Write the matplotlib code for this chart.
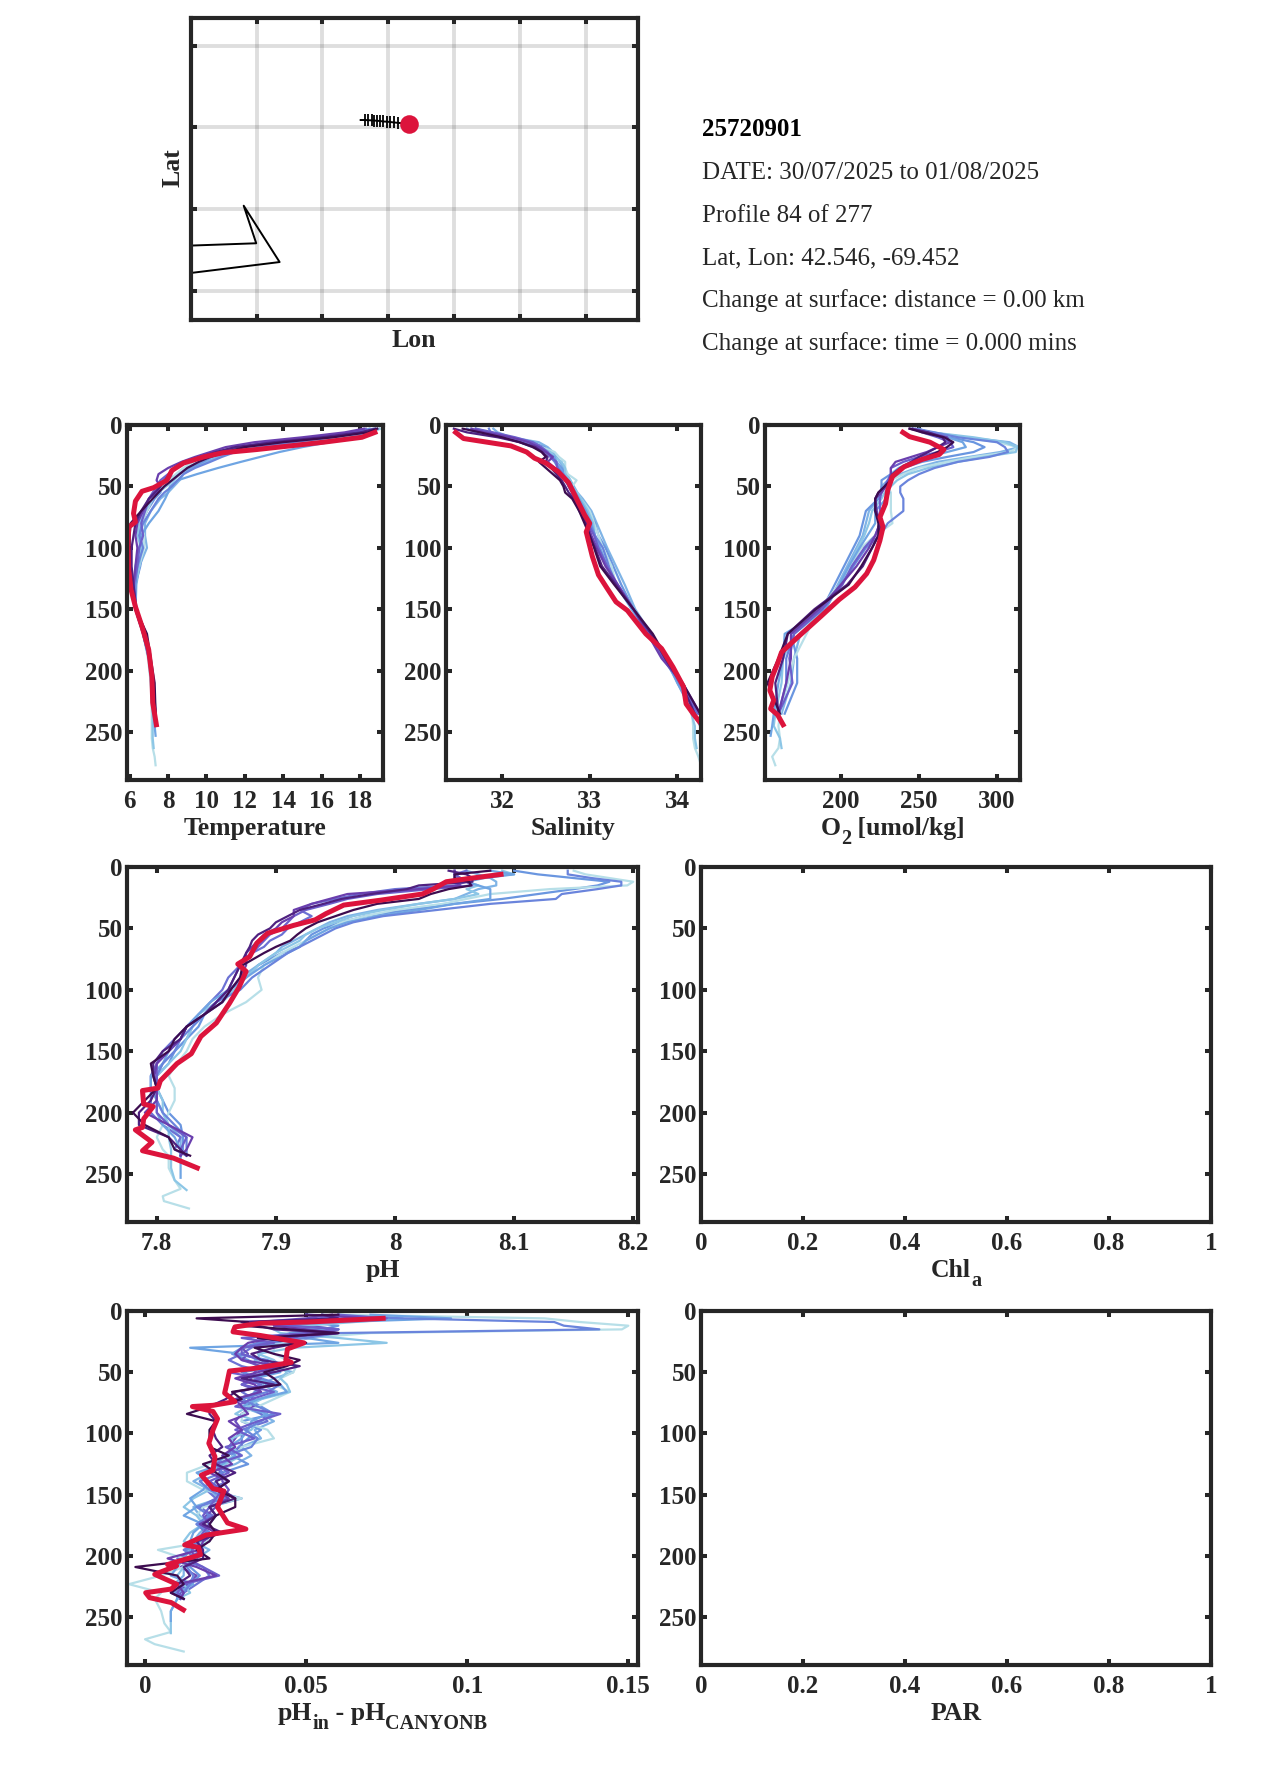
import matplotlib
matplotlib.use('Agg')
import matplotlib.pyplot as plt

plt.rcParams['font.family'] = ['Liberation Serif', 'DejaVu Serif']

W, H = 1275, 1771
DARK = '#262626'
RED = '#dc143c'
line_colors = ['#b7dfe8', '#8cc6e6', '#6fa5e3', '#6a84dc', '#6d5fcb', '#6a3fae', '#4f2180', '#3d0c4f']
extra_colors = ['#7fb4e6', '#6a96e0', '#6c72d4', '#6b50bd']

info_lines = ['DATE: 30/07/2025 to 01/08/2025', 'Profile 84 of 277', 'Lat, Lon: 42.546, -69.452',
              'Change at surface: distance = 0.00 km', 'Change at surface: time = 0.000 mins']

# map
lon_ticks = [-74.08, -72.08, -70.08, -68.08, -66.08, -64.08]
lat_ticks = [40.5, 41.5, 42.5, 43.5]
track_lon = [-70.92, -70.79, -70.69, -70.59, -70.51, -70.41, -70.33, -70.23, -70.13, -70.03, -69.90, -69.78, -69.452]
track_lat = [42.59, 42.59, 42.588, 42.586, 42.584, 42.58, 42.578, 42.572, 42.57, 42.566, 42.56, 42.555, 42.546]
coast_lon = [-76.2, -74.09, -74.47, -73.38, -76.2]
coast_lat = [41.05, 41.08, 41.54, 40.85, 40.71]

# depth grids
depth_a = [3, 6, 10, 14, 18, 22, 26, 30, 35, 40, 45, 50, 55, 60, 70, 80, 90, 100, 115, 130, 150, 170, 190, 210, 235]
tail_0 = [245, 255, 263, 270, 277]
tail_1 = [245, 255, 263]
tail_2 = [245, 253]

# temperature
t0 = [19.1, 18.5, 17, 14.5, 11.5, 10.4, 9.8, 9.3, 8.8, 8.4, 8.1, 7.7, 7.4, 7.2, 6.9, 6.6, 6.75, 6.75, 6.5, 6.25, 6.3, 6.7, 6.95, 7.1, 7.15, 7.15, 7.15, 7.2, 7.3, 7.35]
t1 = [19.0, 18.6, 17.0, 14.8, 12.0, 10.8, 10.2, 9.6, 9.0, 8.6, 8.3, 7.9, 7.5, 7.2, 6.8, 6.5, 6.4, 6.6, 6.5, 6.3, 6.3, 6.7, 7.0, 7.1, 7.2, 7.2, 7.2, 7.25]
t2 = [18.9, 18.4, 17.6, 16.4, 15, 13.8, 12.8, 11.8, 10.6, 9.5, 8.5, 8.1, 8.0, 7.85, 7.5, 7.0, 6.6, 6.5, 6.3, 6.25, 6.35, 6.75, 7.0, 7.15, 7.25, 7.3, 7.35]
t3 = [18.8, 18.0, 16.5, 14.5, 12.8, 11.5, 10.8, 10.2, 9.4, 8.8, 8.5, 8.2, 7.8, 7.5, 7.1, 6.7, 6.5, 6.7, 6.4, 6.3, 6.3, 6.7, 7.0, 7.15, 7.3]
t4 = [18.3, 17.6, 15.5, 13.2, 11.6, 10.5, 9.8, 9.0, 8.4, 8.0, 7.6, 7.4, 7.2, 7.0, 6.8, 6.6, 6.7, 6.5, 6.4, 6.2, 6.3, 6.7, 7.0, 7.2, 7.3]
t5 = [18.2, 17.2, 15.0, 12.5, 11, 10.2, 9.4, 8.7, 8.0, 7.5, 7.4, 7.6, 7.4, 7.0, 6.7, 6.4, 6.3, 6.4, 6.3, 6.2, 6.3, 6.75, 7.05, 7.2, 7.35]
t6 = [18.8, 18.0, 16.0, 13.5, 11.5, 10.5, 9.7, 9, 8.4, 8.1, 7.8, 7.6, 7.3, 7.0, 6.6, 6.3, 6.2, 6.1, 6.1, 6.2, 6.35, 6.85, 7.05, 7.25, 7.35]
t7 = [18.9, 18.4, 16.6, 14.0, 12.0, 11, 10.2, 9.6, 9.0, 8.6, 8.2, 7.8, 7.5, 7.2, 6.6, 6.05, 6.0, 6.0, 6.0, 6.1, 6.3, 6.9, 7.1, 7.3, 7.35]
te0 = [18.7, 18, 16.6, 14.6, 12.6, 11.3, 10.6, 10, 9.2, 8.8, 8.6, 8.3, 8.0, 7.6, 7.1, 6.8, 6.8, 6.9, 6.5, 6.35, 6.3, 6.7, 7, 7.15, 7.25]
te1 = [18.5, 17.8, 16, 14, 12.2, 11, 10.3, 9.8, 9.1, 8.5, 7.9, 7.7, 7.6, 7.3, 6.9, 6.6, 6.5, 6.7, 6.55, 6.3, 6.3, 6.7, 7, 7.2, 7.3]
red_t_d = [6, 10, 14, 17, 20, 22.5, 26, 31, 37, 45, 51, 54, 62, 72, 79, 83, 96, 118, 134, 148, 164, 183, 205, 226, 244]
red_t = [18.78, 18.1, 16.1, 14.36, 12.6, 10.9, 9.85, 8.8, 8.2, 7.94, 7.25, 6.64, 6.3, 6.2, 6.3, 5.95, 5.91, 5.95, 6.07, 6.3, 6.64, 6.99, 7.16, 7.2, 7.39]

# salinity
s0 = [31.7, 31.8, 32.1, 32.3, 32.45, 32.6, 32.65, 32.72, 32.72, 32.75, 32.85, 32.8, 32.85, 32.9, 33.0, 33.05, 33.1, 33.15, 33.25, 33.3, 33.5, 33.68, 33.88, 34.02, 34.17, 34.18, 34.18, 34.2, 34.24, 34.27]
s1 = [31.65, 31.75, 32.0, 32.25, 32.42, 32.55, 32.6, 32.68, 32.72, 32.72, 32.78, 32.8, 32.85, 32.9, 32.98, 33.04, 33.06, 33.1, 33.2, 33.3, 33.48, 33.66, 33.86, 34.02, 34.16, 34.2, 34.2, 34.22]
s2 = [31.7, 31.85, 32.05, 32.2, 32.35, 32.5, 32.6, 32.62, 32.66, 32.7, 32.76, 32.8, 32.84, 32.88, 32.96, 33.02, 33.06, 33.12, 33.2, 33.3, 33.48, 33.66, 33.86, 34.0, 34.18, 34.26, 34.26]
s3 = [31.85, 31.87, 32.0, 32.22, 32.4, 32.5, 32.55, 32.6, 32.64, 32.7, 32.74, 32.78, 32.82, 32.86, 32.94, 33.0, 33.06, 33.15, 33.22, 33.3, 33.5, 33.68, 33.86, 34.02, 34.22]
s4 = [31.7, 31.9, 32.15, 32.35, 32.45, 32.52, 32.56, 32.62, 32.63, 32.68, 32.74, 32.76, 32.8, 32.84, 32.92, 32.98, 33.05, 33.1, 33.2, 33.32, 33.5, 33.68, 33.84, 34.04, 34.24]
s5 = [31.65, 31.8, 32.1, 32.3, 32.42, 32.5, 32.58, 32.52, 32.6, 32.66, 32.72, 32.76, 32.8, 32.84, 32.9, 32.97, 33.02, 33.08, 33.18, 33.32, 33.5, 33.66, 33.82, 34.06, 34.26]
s6 = [31.45, 31.6, 31.95, 32.2, 32.38, 32.46, 32.52, 32.5, 32.56, 32.62, 32.68, 32.72, 32.76, 32.82, 32.88, 32.96, 33.0, 33.06, 33.14, 33.3, 33.5, 33.7, 33.86, 34.04, 34.2]
s7 = [31.55, 31.75, 32.0, 32.2, 32.35, 32.45, 32.5, 32.42, 32.5, 32.58, 32.66, 32.7, 32.72, 32.8, 32.88, 32.94, 33.0, 33.05, 33.12, 33.28, 33.5, 33.72, 33.88, 34.06, 34.26]
se0 = [31.9, 31.95, 32.1, 32.42, 32.52, 32.58, 32.62, 32.66, 32.7, 32.74, 32.78, 32.82, 32.86, 32.92, 33.02, 33.08, 33.14, 33.2, 33.3, 33.4, 33.52, 33.7, 33.88, 34.0, 34.2]
se1 = [31.6, 31.7, 32.05, 32.35, 32.48, 32.55, 32.58, 32.62, 32.68, 32.72, 32.76, 32.8, 32.84, 32.9, 32.98, 33.06, 33.1, 33.18, 33.27, 33.36, 33.5, 33.66, 33.84, 34.02, 34.24]
red_s_d = [6, 11, 14, 17, 22, 27, 31, 38, 47, 60, 73, 80, 87, 107, 122, 132, 144, 151, 170, 182, 197, 213, 227, 235, 244]
red_s = [31.47, 31.56, 31.83, 32.1, 32.28, 32.37, 32.5, 32.64, 32.76, 32.85, 32.94, 33.0, 32.96, 33.03, 33.1, 33.19, 33.3, 33.43, 33.64, 33.82, 33.95, 34.07, 34.1, 34.18, 34.28]

# oxygen
o0 = [245, 255, 278, 300, 314, 308, 285, 268, 250, 240, 232, 230, 232, 232, 232, 233, 222, 213, 206, 199, 186, 178, 170, 166, 161, 160, 161, 160, 156, 158]
o1 = [247, 258, 285, 305, 313, 312, 292, 275, 256, 243, 236, 232, 228, 226, 220, 218, 215, 211, 205, 199, 190, 170, 163, 162, 158, 157, 161, 162]
o2 = [250, 256, 268, 278, 280, 268, 256, 245, 237, 232, 232, 230, 231, 229, 222, 222, 217, 212, 205, 199, 190, 164, 163, 160, 157, 156, 155]
o3 = [248, 260, 275, 300, 305, 307, 295, 275, 260, 250, 243, 238, 238, 240, 240, 230, 225, 216, 208, 200, 188, 170, 165, 165, 160]
o4 = [246, 252, 262, 270, 272, 262, 250, 240, 232, 232, 230, 228, 226, 225, 225, 225, 222, 215, 207, 201, 188, 170, 167, 169, 160]
o5 = [246, 255, 268, 270, 262, 255, 245, 235, 232, 232, 231, 229, 226, 222, 223, 225, 222, 218, 210, 200, 186, 168, 168, 165, 160]
o6 = [244, 256, 265, 267, 262, 256, 250, 245, 238, 233, 232, 228, 224, 222, 222, 226, 224, 220, 214, 204, 183, 166, 163, 158, 160]
o7 = [244, 252, 266, 272, 268, 262, 255, 248, 240, 235, 232, 228, 224, 222, 222, 224, 224, 220, 213, 205, 184, 166, 160, 153, 161]
oe0 = [246, 258, 280, 308, 314, 302, 282, 262, 248, 238, 230, 226, 226, 224, 218, 216, 214, 210, 204, 198, 190, 174, 170, 168, 162]
oe1 = [245, 254, 270, 285, 292, 285, 268, 252, 240, 232, 226, 226, 226, 224, 216, 214, 212, 208, 202, 196, 188, 168, 172, 172, 164]
red_o_d = [6, 9.5, 14, 20, 24, 28, 34, 42, 53, 64, 75, 83, 94, 110, 121, 132, 142, 156, 172, 185, 194, 205, 216, 224, 231, 236, 244]
red_o = [239.7, 244, 257, 266, 263, 252, 240.5, 233, 230, 228.6, 225, 227, 225, 221, 216.5, 209, 199, 187, 173, 162, 159.5, 156, 154.5, 157, 155, 159.5, 163]

# pH
depth_ph = [3, 6, 9, 12, 15, 18, 22, 26, 30, 35, 40, 45, 50, 55, 60, 65, 70, 80, 90, 100, 110, 120, 130, 140, 150, 160, 170, 180, 190, 200, 210, 220, 230, 235]
tail_ph = [245, 255, 262, 268, 272, 278]
p0 = [8.15, 8.16, 8.18, 8.2, 8.195, 8.13, 8.08, 8.06, 8.04, 8.0, 7.975, 7.955, 7.945, 7.935, 7.925, 7.915, 7.905, 7.89, 7.885, 7.888, 7.875, 7.855, 7.84, 7.83, 7.825, 7.817, 7.81, 7.815, 7.815, 7.81, 7.805, 7.8, 7.805, 7.81, 7.81, 7.815, 7.82, 7.805, 7.806, 7.827]
p1 = [8.09, 8.1, 8.06, 8.06, 8.07, 8.06, 8.07, 8.05, 8.02, 7.99, 7.965, 7.95, 7.935, 7.925, 7.92, 7.91, 7.9, 7.885, 7.875, 7.865, 7.85, 7.835, 7.83, 7.825, 7.82, 7.81, 7.8, 7.8, 7.805, 7.805, 7.81, 7.81, 7.812, 7.812, 7.812, 7.815, 7.825]
p2 = [8.08, 8.10, 8.075, 8.06, 8.07, 8.08, 8.08, 8.08, 8.05, 8.02, 7.985, 7.96, 7.945, 7.935, 7.925, 7.92, 7.91, 7.89, 7.875, 7.86, 7.845, 7.835, 7.825, 7.82, 7.81, 7.805, 7.795, 7.795, 7.80, 7.80, 7.805, 7.815, 7.82, 7.82, 7.82, 7.82]
p3 = [8.145, 8.145, 8.165, 8.19, 8.19, 8.17, 8.14, 8.135, 8.08, 8.035, 7.99, 7.965, 7.95, 7.94, 7.93, 7.92, 7.91, 7.895, 7.88, 7.87, 7.85, 7.84, 7.83, 7.82, 7.815, 7.805, 7.80, 7.80, 7.80, 7.805, 7.815, 7.825, 7.825, 7.825]
p4 = [8.05, 8.05, 8.055, 8.06, 8.065, 8.03, 7.985, 7.96, 7.945, 7.925, 7.915, 7.91, 7.905, 7.895, 7.89, 7.885, 7.88, 7.87, 7.865, 7.86, 7.85, 7.84, 7.825, 7.82, 7.81, 7.80, 7.80, 7.80, 7.80, 7.80, 7.81, 7.825, 7.82, 7.82]
p5 = [8.05, 8.05, 8.05, 8.05, 8.055, 8.02, 7.96, 7.945, 7.93, 7.915, 7.915, 7.905, 7.90, 7.89, 7.885, 7.88, 7.875, 7.875, 7.87, 7.862, 7.855, 7.84, 7.825, 7.82, 7.81, 7.80, 7.798, 7.80, 7.80, 7.79, 7.81, 7.83, 7.825, 7.82]
p6 = [8.045, 8.06, 8.065, 8.065, 8.02, 8.01, 7.98, 7.955, 7.94, 7.92, 7.91, 7.90, 7.895, 7.885, 7.88, 7.878, 7.875, 7.87, 7.865, 7.86, 7.85, 7.84, 7.825, 7.82, 7.805, 7.797, 7.797, 7.80, 7.795, 7.785, 7.785, 7.81, 7.82, 7.825]
p7 = [8.08, 8.05, 8.05, 8.062, 8.064, 8.045, 8.03, 8.02, 7.985, 7.965, 7.95, 7.935, 7.925, 7.918, 7.912, 7.9, 7.89, 7.872, 7.87, 7.862, 7.855, 7.84, 7.825, 7.815, 7.81, 7.795, 7.797, 7.80, 7.79, 7.78, 7.79, 7.81, 7.815, 7.828]
pe0 = [8.06, 8.07, 8.08, 8.085, 8.085, 8.07, 8.06, 8.05, 8.02, 7.985, 7.96, 7.945, 7.935, 7.925, 7.915, 7.905, 7.9, 7.885, 7.87, 7.865, 7.855, 7.84, 7.83, 7.825, 7.815, 7.805, 7.80, 7.80, 7.80, 7.805, 7.81, 7.82, 7.82, 7.82]
pe1 = [8.1, 8.12, 8.15, 8.18, 8.17, 8.15, 8.12, 8.09, 8.05, 8.01, 7.975, 7.955, 7.94, 7.93, 7.925, 7.92, 7.905, 7.885, 7.875, 7.86, 7.85, 7.84, 7.835, 7.825, 7.815, 7.81, 7.80, 7.80, 7.805, 7.81, 7.82, 7.822, 7.822, 7.82]
pe2 = [8.06, 8.05, 8.055, 8.06, 8.05, 8.0, 7.97, 7.95, 7.93, 7.92, 7.93, 7.92, 7.91, 7.905, 7.895, 7.89, 7.88, 7.87, 7.86, 7.855, 7.845, 7.835, 7.825, 7.815, 7.805, 7.80, 7.795, 7.795, 7.795, 7.795, 7.805, 7.82, 7.815, 7.825]
red_p_d = [6, 9.5, 12, 18, 22, 27, 31, 38, 43, 47.5, 54, 62, 73, 79, 85, 98, 111, 127, 138, 152, 160, 174, 180, 182, 193, 195, 205, 212, 214, 224, 231, 237, 245]
red_p = [8.089, 8.061, 8.043, 8.032, 8.023, 7.988, 7.957, 7.942, 7.933, 7.915, 7.893, 7.884, 7.878, 7.868, 7.875, 7.869, 7.861, 7.85, 7.837, 7.829, 7.817, 7.803, 7.801, 7.788, 7.789, 7.797, 7.789, 7.788, 7.782, 7.796, 7.788, 7.814, 7.834]

# pH difference
depth_d = [3, 6, 9, 12, 15, 18, 22, 26, 30, 35, 40, 45, 50, 55, 60, 66, 72, 78, 84, 90, 97, 104, 111, 118, 125, 132, 139, 146, 153, 160, 167, 174, 181, 188, 195, 202, 209, 216, 223, 230, 235]
d0 = [0.06, 0.124, 0.135, 0.15, 0.148, 0.07, 0.05, 0.045, 0.04, 0.04, 0.044, 0.047, 0.046, 0.042, 0.04, 0.045, 0.04, 0.035, 0.03, 0.03, 0.038, 0.04, 0.03, 0.028, 0.02, 0.013, 0.013, 0.018, 0.03, 0.018, 0.016, 0.02, 0.018, 0.02, 0.004, 0.012, 0.012, 0.005, -0.005, 0.005, 0.003, 0.005, 0.006, 0.008, 0.0, 0.003, 0.012]
d1 = [0.06, 0.08, 0.065, 0.05, 0.04, 0.042, 0.06, 0.075, 0.046, 0.035, 0.04, 0.042, 0.044, 0.042, 0.044, 0.045, 0.036, 0.032, 0.028, 0.035, 0.033, 0.027, 0.027, 0.03, 0.025, 0.018, 0.017, 0.02, 0.015, 0.012, 0.016, 0.018, 0.014, 0.012, 0.018, 0.014, 0.012, 0.01, 0.012, 0.014, 0.01, 0.008, 0.008, 0.008]
d2 = [0.07, 0.095, 0.06, 0.04, 0.06, 0.045, 0.05, 0.06, 0.014, 0.03, 0.036, 0.04, 0.042, 0.034, 0.042, 0.044, 0.035, 0.03, 0.038, 0.033, 0.032, 0.03, 0.026, 0.028, 0.024, 0.016, 0.02, 0.018, 0.014, 0.016, 0.012, 0.018, 0.015, 0.014, 0.014, 0.012, 0.01, 0.008, 0.015, 0.01, 0.01, 0.008, 0.008]
d3 = [0.05, 0.08, 0.127, 0.13, 0.141, 0.06, 0.05, 0.035, 0.03, 0.028, 0.038, 0.042, 0.03, 0.036, 0.042, 0.038, 0.03, 0.035, 0.04, 0.036, 0.031, 0.035, 0.033, 0.025, 0.022, 0.024, 0.017, 0.02, 0.025, 0.016, 0.02, 0.016, 0.02, 0.017, 0.012, 0.016, 0.013, 0.015, 0.014, 0.012, 0.011]
d4 = [0.06, 0.075, 0.03, 0.045, 0.06, 0.05, 0.03, 0.04, 0.03, 0.03, 0.036, 0.04, 0.026, 0.036, 0.03, 0.04, 0.033, 0.028, 0.042, 0.035, 0.028, 0.034, 0.025, 0.03, 0.022, 0.026, 0.02, 0.024, 0.022, 0.02, 0.018, 0.02, 0.018, 0.016, 0.018, 0.013, 0.018, 0.023, 0.012, 0.01, 0.012]
d5 = [0.05, 0.07, 0.04, 0.04, 0.05, 0.06, 0.04, 0.032, 0.03, 0.028, 0.03, 0.042, 0.035, 0.028, 0.034, 0.036, 0.028, 0.03, 0.032, 0.026, 0.03, 0.026, 0.028, 0.024, 0.027, 0.02, 0.026, 0.022, 0.026, 0.02, 0.022, 0.017, 0.022, 0.018, 0.017, 0.007, 0.016, 0.022, 0.01, 0.012, 0.011]
d6 = [0.055, 0.06, 0.03, 0.035, 0.04, 0.06, 0.035, 0.048, 0.04, 0.033, 0.036, 0.048, 0.04, 0.03, 0.04, 0.028, 0.025, 0.02, 0.02, 0.022, 0.021, 0.022, 0.024, 0.02, 0.022, 0.028, 0.022, 0.024, 0.028, 0.02, 0.022, 0.018, 0.024, 0.016, 0.018, 0.018, 0.012, 0.014, 0.01, 0.008, 0.012]
d7 = [0.06, 0.016, 0.032, 0.03, 0.045, 0.06, 0.035, 0.05, 0.034, 0.04, 0.048, 0.044, 0.037, 0.04, 0.042, 0.027, 0.03, 0.02, 0.013, 0.022, 0.02, 0.02, 0.02, 0.026, 0.018, 0.022, 0.026, 0.022, 0.028, 0.028, 0.022, 0.02, 0.022, 0.02, 0.016, 0.02, -0.003, 0.01, 0.012, 0.008, 0.012]
de0 = [0.055, 0.07, 0.04, 0.05, 0.06, 0.055, 0.05, 0.04, 0.035, 0.036, 0.034, 0.038, 0.046, 0.04, 0.036, 0.041, 0.036, 0.03, 0.036, 0.04, 0.034, 0.036, 0.03, 0.033, 0.028, 0.02, 0.015, 0.02, 0.023, 0.015, 0.017, 0.02, 0.017, 0.015, 0.02, 0.016, 0.012, 0.012, 0.009, 0.012, 0.01]
de1 = [0.06, 0.065, 0.05, 0.06, 0.055, 0.045, 0.04, 0.05, 0.03, 0.027, 0.032, 0.035, 0.04, 0.034, 0.038, 0.034, 0.032, 0.036, 0.04, 0.03, 0.036, 0.032, 0.029, 0.027, 0.032, 0.024, 0.022, 0.02, 0.03, 0.02, 0.022, 0.02, 0.018, 0.02, 0.013, 0.012, 0.014, 0.017, 0.014, 0.009, 0.012]
de2 = [0.05, 0.058, 0.04, 0.045, 0.05, 0.06, 0.052, 0.036, 0.033, 0.03, 0.026, 0.03, 0.038, 0.03, 0.036, 0.03, 0.034, 0.032, 0.036, 0.038, 0.03, 0.03, 0.03, 0.024, 0.025, 0.023, 0.026, 0.019, 0.022, 0.017, 0.021, 0.016, 0.019, 0.015, 0.015, 0.01, 0.018, 0.02, 0.016, 0.012, 0.011]
de3 = [0.058, 0.05, 0.035, 0.05, 0.06, 0.055, 0.045, 0.038, 0.03, 0.032, 0.03, 0.036, 0.034, 0.033, 0.03, 0.036, 0.028, 0.034, 0.03, 0.028, 0.03, 0.028, 0.026, 0.03, 0.021, 0.024, 0.024, 0.026, 0.024, 0.022, 0.019, 0.017, 0.02, 0.018, 0.014, 0.016, 0.011, 0.016, 0.013, 0.011, 0.01]
red_d_d = [6, 9, 10, 13, 17, 20, 23, 26, 31, 40, 42, 47, 49, 59, 67, 74, 77, 78, 82, 88, 97, 108, 119, 130, 134, 145, 147, 160, 173, 178, 183, 191, 193, 199, 207, 208, 215, 223, 227, 230, 234, 238, 244]
red_d = [0.0739, 0.0505, 0.0358, 0.0279, 0.0273, 0.0358, 0.0425, 0.0493, 0.0442, 0.0437, 0.0454, 0.0335, 0.0262, 0.0254, 0.0247, 0.0279, 0.0211, 0.0147, 0.0211, 0.0225, 0.0211, 0.0198, 0.0217, 0.0211, 0.0175, 0.0211, 0.0245, 0.0225, 0.0256, 0.0313, 0.0188, 0.0123, 0.0166, 0.0172, 0.007, 0.0098, 0.003, 0.0098, 0.0081, 0.0002, 0.0014, 0.0081, 0.0119]

depth_ticks = [0, 50, 100, 150, 200, 250]
frac_ticks = [0, 0.2, 0.4, 0.6, 0.8, 1]
frac_labels = ['0', '0.2', '0.4', '0.6', '0.8', '1']

fig = plt.figure(figsize=(W / 100, H / 100), dpi=100)


def panel(left, right, top, bottom):
    ax = fig.add_axes([left / W, 1 - bottom / H, (right - left) / W, (bottom - top) / H])
    for s in ax.spines.values():
        s.set_linewidth(3.0)
        s.set_color(DARK)
    ax.tick_params(direction='in', length=4.5, width=2.9, top=True, right=True, color=DARK,
                   labelsize=18, labelcolor=DARK)
    ax.tick_params(axis='x', pad=7)
    ax.tick_params(axis='y', pad=3)
    return ax


def label_parts(parts, cx, base):
    # sub-scripted axis labels are put together piece by piece
    rend = fig.canvas.get_renderer()
    items = []
    total = 0
    for txt, is_sub in parts:
        size = 14.5 if is_sub else 18.5
        drop = 9 if is_sub else 0
        t = fig.text(0, 1 - (base + drop) / H, txt, fontsize=size, fontweight='bold', color=DARK, va='baseline')
        adv = t.get_window_extent(rend).width
        if txt.endswith(' '):
            adv += size * 0.25 * 100 / 72
        items.append((t, total))
        total += adv
    for t, off in items:
        t.set_x((cx - total / 2 + off) / W)


def depth_panel(box, xlim, xticks, xlabels, parts):
    ax = panel(*box)
    ax.set_xlim(*xlim)
    ax.set_ylim(289, 0)
    ax.set_xticks(xticks)
    ax.set_xticklabels(xlabels, fontweight='bold')
    ax.set_yticks(depth_ticks)
    ax.set_yticklabels([str(d) for d in depth_ticks], fontweight='bold')
    label_parts(parts, (box[0] + box[1]) / 2, box[3] + 55)
    return ax


def draw(ax, series, extras, red_x, red_y, depths=depth_a, tails=(tail_0, tail_1, tail_2)):
    for i, x in enumerate(extras):
        ax.plot(x, depths, color=extra_colors[i], lw=1.6)
    for i, x in enumerate(series):
        y = list(depths)
        if i < len(tails):
            y = y + list(tails[i])
        ax.plot(x, y, color=line_colors[i], lw=1.6)
    ax.plot(red_x, red_y, color=RED, lw=3.6)


# top map
ax = panel(191, 638, 18, 320)
ax.set_xlim(-76.07, -62.5)
ax.set_ylim(40.14, 43.84)
ax.set_xticks(lon_ticks)
ax.set_yticks(lat_ticks)
ax.set_xticklabels([])
ax.set_yticklabels([])
ax.grid(True, color=DARK, alpha=0.15, lw=2.8)
ax.set_axisbelow(True)
ax.plot(coast_lon, coast_lat, color='black', lw=1.4)
ax.plot(track_lon, track_lat, color='black', lw=1.4)
ax.plot(track_lon[1:], track_lat[1:], ls='none', color='black', marker='|', ms=8.5, mew=1.3)
ax.plot(track_lon[-1], track_lat[-1], 'o', color=RED, ms=13.4, mew=0, zorder=5)
label_parts([('Lon', False)], 414, 347)
fig.text(173 / W, 1 - 168 / H, 'Lat', fontsize=18.5, fontweight='bold', color=DARK, rotation=90, ha='center', va='center')

# profile information
fig.text(702 / W, 1 - 130 / H, '25720901', fontsize=18, fontweight='bold', color='black', va='center')
for i, txt in enumerate(info_lines):
    fig.text(702 / W, 1 - (173 + i * 42.6) / H, txt, fontsize=18, color=DARK, va='center')

# first row
ax = depth_panel((127, 383, 425, 780), (5.86, 19.2), [6, 8, 10, 12, 14, 16, 18],
                 ['6', '8', '10', '12', '14', '16', '18'], [('Temperature', False)])
draw(ax, [t0, t1, t2, t3, t4, t5, t6, t7], [te0, te1], red_t, red_t_d)

ax = depth_panel((446, 701, 425, 780), (31.36, 34.27), [32, 33, 34], ['32', '33', '34'], [('Salinity', False)])
draw(ax, [s0, s1, s2, s3, s4, s5, s6, s7], [se0, se1], red_s, red_s_d)

ax = depth_panel((765, 1020, 425, 780), (151.4, 314.7), [200, 250, 300], ['200', '250', '300'],
                 [('O', False), ('2', True), (' [umol/kg]', False)])
draw(ax, [o0, o1, o2, o3, o4, o5, o6, o7], [oe0, oe1], red_o, red_o_d)

# second row
ax = depth_panel((127, 638, 867, 1222), (7.775, 8.204), [7.8, 7.9, 8, 8.1, 8.2],
                 ['7.8', '7.9', '8', '8.1', '8.2'], [('pH', False)])
draw(ax, [p0, p1, p2, p3, p4, p5, p6, p7], [pe0, pe1, pe2], red_p, red_p_d, depths=depth_ph, tails=(tail_ph, tail_1, tail_2))

ax = depth_panel((701, 1211, 867, 1222), (0, 1), frac_ticks, frac_labels, [('Chl', False), ('a', True)])

# third row
ax = depth_panel((127, 638, 1311, 1665), (-0.0056, 0.153), [0, 0.05, 0.1, 0.15],
                 ['0', '0.05', '0.1', '0.15'], [('pH', False), ('in', True), (' - pH', False), ('CANYONB', True)])
draw(ax, [d0, d1, d2, d3, d4, d5, d6, d7], [de0, de1, de2, de3], red_d, red_d_d, depths=depth_d,
     tails=(tail_ph, tail_1, tail_2))

ax = depth_panel((701, 1211, 1311, 1665), (0, 1), frac_ticks, frac_labels, [('PAR', False)])

fig.savefig('out.png', dpi=100)
